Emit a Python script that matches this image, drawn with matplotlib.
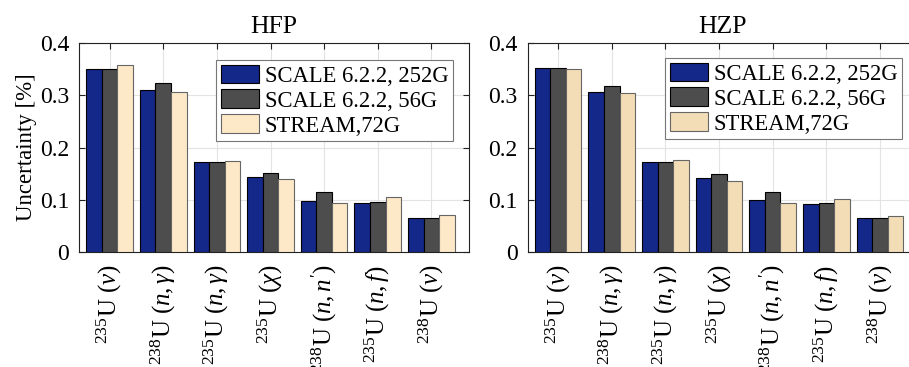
import matplotlib
matplotlib.use("Agg")
import matplotlib.pyplot as plt
import numpy as np

plt.rcParams['font.family'] = ['Liberation Serif', 'DejaVu Serif']
plt.rcParams['mathtext.fontset'] = 'custom'
plt.rcParams['mathtext.rm'] = 'Liberation Serif'
plt.rcParams['mathtext.it'] = 'Liberation Serif:italic'
plt.rcParams['mathtext.bf'] = 'Liberation Serif:bold'

categories = [r'$^{235}\mathrm{U}\ (\nu)$', r'$^{238}\mathrm{U}\ (n,\gamma)$',
              r'$^{235}\mathrm{U}\ (n,\gamma)$', r'$^{235}\mathrm{U}\ (\chi)$',
              r"$^{238}\mathrm{U}\ (n,n')$", r'$^{235}\mathrm{U}\ (n,f)$',
              r'$^{238}\mathrm{U}\ (\nu)$']
series_names = ['SCALE 6.2.2, 252G', 'SCALE 6.2.2, 56G', 'STREAM,72G']

hfp_252 = [0.350, 0.310, 0.172, 0.143, 0.098, 0.093, 0.065]
hfp_56 = [0.350, 0.323, 0.172, 0.151, 0.114, 0.095, 0.065]
hfp_stream = [0.358, 0.306, 0.175, 0.140, 0.093, 0.106, 0.070]

hzp_252 = [0.352, 0.306, 0.172, 0.141, 0.099, 0.091, 0.065]
hzp_56 = [0.352, 0.317, 0.172, 0.149, 0.115, 0.093, 0.065]
hzp_stream = [0.351, 0.305, 0.176, 0.136, 0.093, 0.101, 0.068]

yticks = [0, 0.1, 0.2, 0.3, 0.4]
ytick_labels = ['0', '0.1', '0.2', '0.3', '0.4']

fig = plt.figure(figsize=(9.09, 3.67), dpi=100)
W, H = 909, 367
ax1 = fig.add_axes([79 / W, (H - 252) / H, 390 / W, 209 / H])
ax2 = fig.add_axes([527.5 / W, (H - 252) / H, 390 / W, 209 / H])

def draw(ax, data, title, cream, ylabel=None):
    x = np.arange(1, len(categories) + 1)
    bw = 0.29
    colors = ['#14288a', '#4d4d4d', cream]
    edges = ['black', 'black', '#666666']
    for i, (vals, c, e, name) in enumerate(zip(data, colors, edges, series_names)):
        ax.bar(x + (i - 1) * bw, vals, bw, color=c, edgecolor=e, linewidth=0.8,
               label=name, zorder=3)
    ax.set_xlim(0.43, 7.7)
    ax.set_ylim(0, 0.4)
    ax.set_xticks(x)
    ax.set_xticklabels(categories, rotation=90, fontsize=18)
    ax.set_yticks(yticks)
    ax.set_yticklabels(ytick_labels, fontsize=17)
    ax.grid(True, color='#e3e3e3', linewidth=0.8, zorder=0)
    ax.set_axisbelow(True)
    ax.tick_params(direction='in', top=True, right=True, length=4, width=0.8,
                   color='#222222')
    ax.tick_params(axis='x', pad=9)
    ax.tick_params(axis='y', pad=7)
    for s in ax.spines.values():
        s.set_linewidth(0.8)
        s.set_color('#222222')
    ax.set_title(title, fontsize=18.5, pad=7)
    if ylabel:
        ax.set_ylabel(ylabel, fontsize=16.5, labelpad=2)
    leg = ax.legend(loc='upper right', fontsize=16.3, fancybox=False, framealpha=1,
                    edgecolor='#777777', handlelength=1.7, handleheight=0.9,
                    handletextpad=0.25, labelspacing=0.12, borderpad=0.2,
                    borderaxespad=0.0)
    leg.get_frame().set_linewidth(0.8)
    return leg

l1 = draw(ax1, [hfp_252, hfp_56, hfp_stream], 'HFP', '#fde9c8', 'Uncertainty [%]')
l1.set_bbox_to_anchor((453 / W, (H - 60) / H), transform=fig.transFigure)
l2 = draw(ax2, [hzp_252, hzp_56, hzp_stream], 'HZP', '#f2ddb6')
l2.set_bbox_to_anchor((902 / W, (H - 58) / H), transform=fig.transFigure)

fig.savefig('out.png', dpi=100)
